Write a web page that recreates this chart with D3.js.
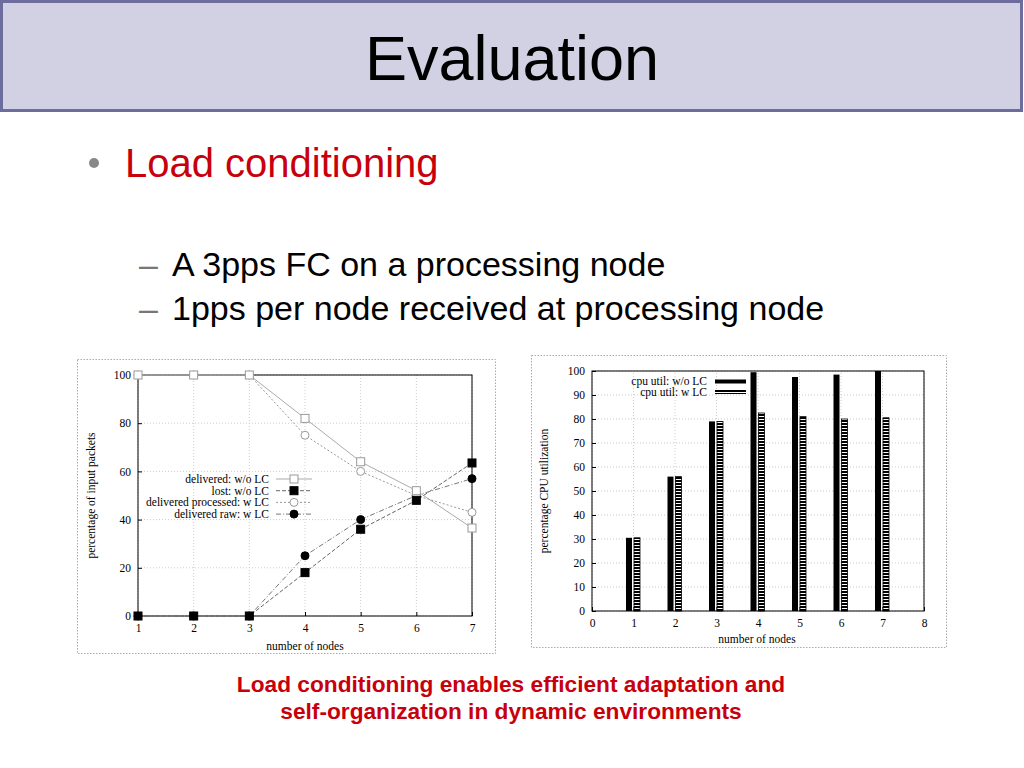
<!DOCTYPE html>
<html>
<head>
<meta charset="utf-8">
<script src="https://cdn.jsdelivr.net/npm/d3@7"></script>
<style>
  body { margin: 0; background: #fff; }
  svg { display: block; }
</style>
</head>
<body>
<svg id="slide" width="1024" height="768"></svg>
<script>
// left chart: packets vs nodes
const nodes = [1, 2, 3, 4, 5, 6, 7];
const deliveredNoLC = [100, 100, 100, 82, 64, 52, 36.5];
const lostNoLC = [0, 0, 0, 18, 36, 48, 63.5];
const deliveredProcLC = [100, 100, 100, 75, 60, 50, 43];
const deliveredRawLC = [0, 0, 0, 25, 40, 50, 57];
const lineTicksY = [0, 20, 40, 60, 80, 100];

// right chart: cpu
const cpuNoLC = [30.5, 56, 79, 99.5, 97.5, 98.5, 100];
const cpuLC = [30.5, 56, 79, 82.5, 81, 80, 80.5];
const barTicksX = [0, 1, 2, 3, 4, 5, 6, 7, 8];
const barTicksY = [0, 10, 20, 30, 40, 50, 60, 70, 80, 90, 100];

const svg = d3.select('#slide');
const serif = 'Liberation Serif, Times New Roman, serif';
const sans = 'Liberation Sans, Arial, Helvetica, sans-serif';
const fs = 11.5;

// header band
svg.append('rect')
    .attr('x', 1.5).attr('y', 1.5)
    .attr('width', 1020).attr('height', 109)
    .attr('fill', '#d1d1e3')
    .attr('stroke', '#6d6d9d')
    .attr('stroke-width', 3);
svg.append('text')
    .attr('x', 512).attr('y', 80)
    .attr('text-anchor', 'middle')
    .attr('font-family', sans)
    .attr('font-size', 63)
    .text('Evaluation');

// bullets
svg.append('circle').attr('cx', 94).attr('cy', 163).attr('r', 5).attr('fill', '#888');
svg.append('text')
    .attr('x', 125).attr('y', 177)
    .attr('font-family', sans).attr('font-size', 40)
    .attr('fill', '#c8000c')
    .text('Load conditioning');

const subs = ['A 3pps FC on a processing node', '1pps per node received at processing node'];
subs.forEach((s, i) => {
    const y = 276 + i * 44;
    svg.append('text').attr('x', 139).attr('y', y)
        .attr('font-family', sans).attr('font-size', 34).attr('fill', '#777')
        .text('–');
    svg.append('text').attr('x', 172).attr('y', y)
        .attr('font-family', sans).attr('font-size', 34)
        .text(s);
});

// caption
['Load conditioning enables efficient adaptation and',
 'self-organization in dynamic environments'].forEach((s, i) => {
    svg.append('text')
        .attr('x', 511).attr('y', 692 + i * 27)
        .attr('text-anchor', 'middle')
        .attr('font-family', sans).attr('font-size', 22.7)
        .attr('font-weight', 'bold')
        .attr('fill', '#c8000c')
        .text(s);
});

function frame(x, y, w, h) {
    svg.append('rect')
        .attr('x', x).attr('y', y).attr('width', w).attr('height', h)
        .attr('fill', '#fff')
        .attr('stroke', '#aaa')
        .attr('stroke-dasharray', '1.5,1.5');
}

// ---------------- left chart ----------------
frame(77.5, 359.5, 418, 294);

const xL = d3.scaleLinear().domain([1, 7]).range([138, 472]);
const yL = d3.scaleLinear().domain([0, 100]).range([616, 375]);
const gL = svg.append('g');

gL.selectAll('.gx').data(nodes).join('line')
    .attr('x1', d => xL(d)).attr('x2', d => xL(d))
    .attr('y1', yL(0)).attr('y2', yL(100))
    .attr('stroke', '#ccc').attr('stroke-dasharray', '1,2');
gL.selectAll('.gy').data(lineTicksY).join('line')
    .attr('x1', xL(1)).attr('x2', xL(7))
    .attr('y1', d => yL(d)).attr('y2', d => yL(d))
    .attr('stroke', '#ccc').attr('stroke-dasharray', '1,2');

gL.append('g')
    .attr('transform', `translate(0,${yL(0)})`)
    .call(d3.axisBottom(xL).tickValues(nodes).tickSize(-4).tickPadding(8).tickFormat(d3.format('d')))
    .call(g => g.select('.domain').remove());
gL.append('g')
    .attr('transform', `translate(${xL(1)},0)`)
    .call(d3.axisLeft(yL).tickValues(lineTicksY).tickSize(-4).tickPadding(7))
    .call(g => g.select('.domain').remove());
gL.selectAll('.tick text').attr('font-family', serif).attr('font-size', fs).attr('fill', '#000');
gL.selectAll('.tick line').attr('stroke', '#000');

gL.append('rect')
    .attr('x', xL(1)).attr('y', yL(100))
    .attr('width', xL(7) - xL(1)).attr('height', yL(0) - yL(100))
    .attr('fill', 'none').attr('stroke', '#000');

const lineSeries = [
    {name: 'delivered: w/o LC', values: deliveredNoLC, stroke: '#aaa', dash: null, shape: 'square', fill: '#fff', mstroke: '#999'},
    {name: 'lost: w/o LC', values: lostNoLC, stroke: '#666', dash: '4,2', shape: 'square', fill: '#000', mstroke: '#000'},
    {name: 'delivered processed: w LC', values: deliveredProcLC, stroke: '#999', dash: '2,2', shape: 'circle', fill: '#fff', mstroke: '#999'},
    {name: 'delivered raw: w LC', values: deliveredRawLC, stroke: '#777', dash: '5,2,1,2', shape: 'circle', fill: '#000', mstroke: '#000'}
];

const line = d3.line().x((d, i) => xL(nodes[i])).y(d => yL(d));

function marker(g, shape, cx, cy, s) {
    if (shape === 'square') {
        g.append('rect').attr('x', cx - 4).attr('y', cy - 4).attr('width', 8).attr('height', 8)
            .attr('fill', s.fill).attr('stroke', s.mstroke);
    } else {
        g.append('circle').attr('cx', cx).attr('cy', cy).attr('r', 4)
            .attr('fill', s.fill).attr('stroke', s.mstroke);
    }
}

lineSeries.forEach(s => {
    gL.append('path')
        .attr('d', line(s.values))
        .attr('fill', 'none')
        .attr('stroke', s.stroke)
        .attr('stroke-dasharray', s.dash);
});
// draw markers in reverse so open squares sit on top at the 100 line
lineSeries.slice().reverse().forEach(s => {
    s.values.forEach((v, i) => marker(gL, s.shape, xL(nodes[i]), yL(v), s));
});

// legend
const legL = gL.append('g');
lineSeries.forEach((s, i) => {
    const y = 479 + i * 11.7;
    legL.append('text')
        .attr('x', 269).attr('y', y + 4)
        .attr('text-anchor', 'end')
        .attr('font-family', serif).attr('font-size', fs)
        .text(s.name);
    legL.append('line')
        .attr('x1', 276).attr('x2', 312).attr('y1', y).attr('y2', y)
        .attr('stroke', s.stroke).attr('stroke-dasharray', s.dash);
    marker(legL, s.shape, 294, y, s);
});

gL.append('text')
    .attr('x', (xL(1) + xL(7)) / 2).attr('y', 650)
    .attr('text-anchor', 'middle')
    .attr('font-family', serif).attr('font-size', fs)
    .text('number of nodes');
gL.append('text')
    .attr('transform', `translate(95,${(yL(0) + yL(100)) / 2}) rotate(-90)`)
    .attr('text-anchor', 'middle')
    .attr('font-family', serif).attr('font-size', fs)
    .text('percentage of input packets');

// ---------------- right chart ----------------
frame(531.5, 355.5, 415, 292);

const defs = svg.append('defs');
const pat = defs.append('pattern')
    .attr('id', 'stripes')
    .attr('patternUnits', 'userSpaceOnUse')
    .attr('width', 10).attr('height', 3);
pat.append('rect').attr('width', 10).attr('height', 3).attr('fill', '#000');
pat.append('rect').attr('y', 2).attr('width', 10).attr('height', 1).attr('fill', '#fff');

const xR = d3.scaleLinear().domain([0, 8]).range([592, 924]);
const yR = d3.scaleLinear().domain([0, 100]).range([611, 371]);
const gR = svg.append('g');

gR.selectAll('.gx').data(barTicksX).join('line')
    .attr('x1', d => xR(d)).attr('x2', d => xR(d))
    .attr('y1', yR(0)).attr('y2', yR(100))
    .attr('stroke', '#ccc').attr('stroke-dasharray', '1,2');
gR.selectAll('.gy').data(barTicksY).join('line')
    .attr('x1', xR(0)).attr('x2', xR(8))
    .attr('y1', d => yR(d)).attr('y2', d => yR(d))
    .attr('stroke', '#ccc').attr('stroke-dasharray', '1,2');

gR.append('g')
    .attr('transform', `translate(0,${yR(0)})`)
    .call(d3.axisBottom(xR).tickValues(barTicksX).tickSize(-4).tickPadding(8).tickFormat(d3.format('d')))
    .call(g => g.select('.domain').remove());
gR.append('g')
    .attr('transform', `translate(${xR(0)},0)`)
    .call(d3.axisLeft(yR).tickValues(barTicksY).tickSize(-4).tickPadding(7))
    .call(g => g.select('.domain').remove());
gR.selectAll('.tick text').attr('font-family', serif).attr('font-size', fs).attr('fill', '#000');
gR.selectAll('.tick line').attr('stroke', '#000');

const barW = 6;
gR.selectAll('.bar-a').data(cpuNoLC).join('rect')
    .attr('x', (d, i) => xR(nodes[i]) - barW - 1.5)
    .attr('y', d => yR(d))
    .attr('width', barW)
    .attr('height', d => yR(0) - yR(d))
    .attr('fill', '#000');
gR.selectAll('.bar-b').data(cpuLC).join('rect')
    .attr('x', (d, i) => xR(nodes[i]) + 0.5)
    .attr('y', d => yR(d))
    .attr('width', barW)
    .attr('height', d => yR(0) - yR(d))
    .attr('fill', 'url(#stripes)')
    .attr('stroke', '#000').attr('stroke-width', 0.8);

gR.append('rect')
    .attr('x', xR(0)).attr('y', yR(100))
    .attr('width', xR(8) - xR(0)).attr('height', yR(0) - yR(100))
    .attr('fill', 'none').attr('stroke', '#000');

// legend
const legR = [
    {name: 'cpu util: w/o LC', fill: '#000'},
    {name: 'cpu util: w LC', fill: 'url(#stripes)'}
];
legR.forEach((s, i) => {
    const y = 381.5 + i * 10.5;
    gR.append('text')
        .attr('x', 707).attr('y', y + 3.5)
        .attr('text-anchor', 'end')
        .attr('font-family', serif).attr('font-size', fs)
        .text(s.name);
    gR.append('rect')
        .attr('x', 715).attr('y', y - 2)
        .attr('width', 31).attr('height', 4)
        .attr('fill', s.fill);
});

gR.append('text')
    .attr('x', 757).attr('y', 643)
    .attr('text-anchor', 'middle')
    .attr('font-family', serif).attr('font-size', fs)
    .text('number of nodes');
gR.append('text')
    .attr('transform', `translate(548,${(yR(0) + yR(100)) / 2}) rotate(-90)`)
    .attr('text-anchor', 'middle')
    .attr('font-family', serif).attr('font-size', fs)
    .text('percentage CPU utilization');
</script>
</body>
</html>
